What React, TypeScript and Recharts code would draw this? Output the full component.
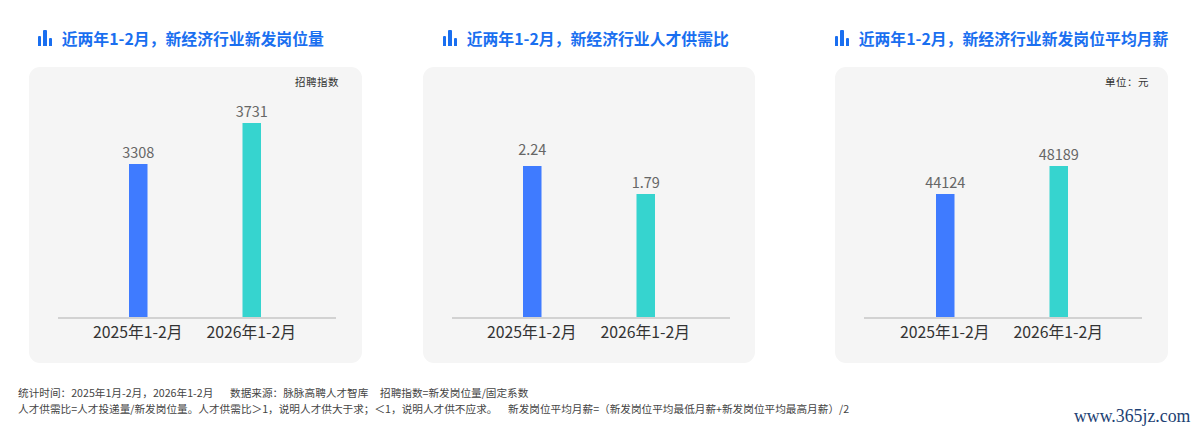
import { Bar, BarChart, Cell, LabelList, XAxis, YAxis } from "recharts";

const periods = ["2025年1-2月", "2026年1-2月"];
const postings = [3308, 3731];
const supplyRatio = [2.24, 1.79];
const avgSalary = [44124, 48189];

const titles = [
  "近两年1-2月，新经济行业新发岗位量",
  "近两年1-2月，新经济行业人才供需比",
  "近两年1-2月，新经济行业新发岗位平均月薪",
];
const units = ["招聘指数", "", "单位：元"];
const barColors = ["#3f7bff", "#36d4cf"];

const FONT = "'Noto Sans CJK SC', 'Noto Sans', sans-serif";

const toRows = (values: number[]) =>
  periods.map((period, i) => ({ period, value: values[i] }));

const TitleIcon = () => (
  <div style={{ display: "flex", alignItems: "flex-end", gap: 2, height: 16 }}>
    {[10, 16, 8].map((h, i) => (
      <div
        key={i}
        style={{ width: 3.4, height: h, background: "#1a6ff0", borderRadius: "1px 1px 0 0" }}
      />
    ))}
  </div>
);

type PanelProps = {
  left: number;
  titleLeft: number;
  title: string;
  unit: string;
  unitLeft: number;
  values: number[];
  domain: [number, number];
  padLeft: number;
  labelLift?: number[];
};

const Panel = ({
  left,
  titleLeft,
  title,
  unit,
  unitLeft,
  values,
  domain,
  padLeft,
  labelLift = [0, 0],
}: PanelProps) => {
  // value labels sit above the bar, the first label of the ratio chart a bit higher
  const renderValue = (props: any) => {
    const { x, y, width, value, index } = props;
    return (
      <text
        x={Number(x) + Number(width) / 2}
        y={Number(y) - 6 - labelLift[index]}
        textAnchor="middle"
        fill="#666666"
        fontSize={14.5}
        fontFamily={FONT}
      >
        {value}
      </text>
    );
  };

  return (
    <>
      <div
        style={{
          position: "absolute",
          left: titleLeft,
          top: 26,
          height: 24,
          display: "flex",
          alignItems: "center",
          gap: 10,
          color: "#1a6ff0",
          fontSize: 15.85,
          fontWeight: 700,
          whiteSpace: "nowrap",
        }}
      >
        <TitleIcon />
        <span style={{ marginLeft: -0.5 }}>{title}</span>
      </div>
      <div
        style={{
          position: "absolute",
          left,
          top: 67,
          width: 332.5,
          height: 295.5,
          background: "#f5f5f5",
          borderRadius: 11,
        }}
      >
        <BarChart
          width={333}
          height={295}
          data={toRows(values)}
          margin={{ top: 30, right: 26, bottom: 14, left: 29 }}
          barSize={18.5}
        >
          <XAxis
            dataKey="period"
            height={30}
            interval={0}
            tickLine={false}
            tickMargin={3}
            axisLine={{ stroke: "#d2d2d2", strokeWidth: 2 }}
            tick={{ fill: "#333333", fontSize: 15.8, fontFamily: FONT }}
            padding={{ left: padLeft, right: 51 - padLeft }}
          />
          <YAxis hide domain={domain} />
          <Bar
            dataKey={(row: { value: number }) => [domain[0], row.value]}
            isAnimationActive={false}
          >
            {values.map((_, i) => (
              <Cell key={i} fill={barColors[i]} />
            ))}
            <LabelList dataKey="value" content={renderValue} />
          </Bar>
        </BarChart>
      </div>
      {unit && (
        <div
          style={{
            position: "absolute",
            left: unitLeft,
            top: 74.5,
            fontSize: 10.5,
            lineHeight: "14px",
            letterSpacing: 0.5,
            color: "#333333",
            whiteSpace: "nowrap",
          }}
        >
          {unit}
        </div>
      )}
    </>
  );
};

const footStyle = (left: number, top: number) =>
  ({
    position: "absolute",
    left,
    top,
    fontSize: 10.65,
    lineHeight: "14px",
    color: "#444444",
    whiteSpace: "nowrap",
  }) as const;

export default function App() {
  return (
    <div
      style={{
        position: "fixed",
        left: 0,
        top: 0,
        width: 1197,
        height: 431,
        overflow: "hidden",
        background: "#ffffff",
        fontFamily: FONT,
      }}
    >
      <Panel
        left={29}
        titleLeft={38}
        title={titles[0]}
        unit={units[0]}
        unitLeft={295}
        values={postings}
        domain={[1720, 4000]}
        padLeft={23}
      />
      <Panel
        left={422.5}
        titleLeft={443}
        title={titles[1]}
        unit={units[1]}
        unitLeft={0}
        values={supplyRatio}
        domain={[-0.2, 3.35]}
        padLeft={23}
        labelLift={[5, 0]}
      />
      <Panel
        left={835}
        titleLeft={835}
        title={titles[2]}
        unit={units[2]}
        unitLeft={1105}
        values={avgSalary}
        domain={[26120, 58200]}
        padLeft={24}
      />

      <div style={footStyle(18, 386)}>统计时间：2025年1月-2月，2026年1-2月</div>
      <div style={footStyle(230, 386)}>数据来源：脉脉高聘人才智库</div>
      <div style={footStyle(380, 386)}>招聘指数=新发岗位量/固定系数</div>
      <div style={footStyle(18, 402)}>
        人才供需比=人才投递量/新发岗位量。人才供需比＞1，说明人才供大于求；＜1，说明人才供不应求。
      </div>
      <div style={footStyle(508, 402)}>
        新发岗位平均月薪=（新发岗位平均最低月薪+新发岗位平均最高月薪）/2
      </div>

      <div
        style={{
          position: "absolute",
          left: 1074,
          top: 406,
          fontFamily: "'Liberation Serif', serif",
          fontSize: 17.8,
          lineHeight: "20px",
          color: "#1d3f73",
          whiteSpace: "nowrap",
        }}
      >
        www.365jz.com
      </div>
    </div>
  );
}
